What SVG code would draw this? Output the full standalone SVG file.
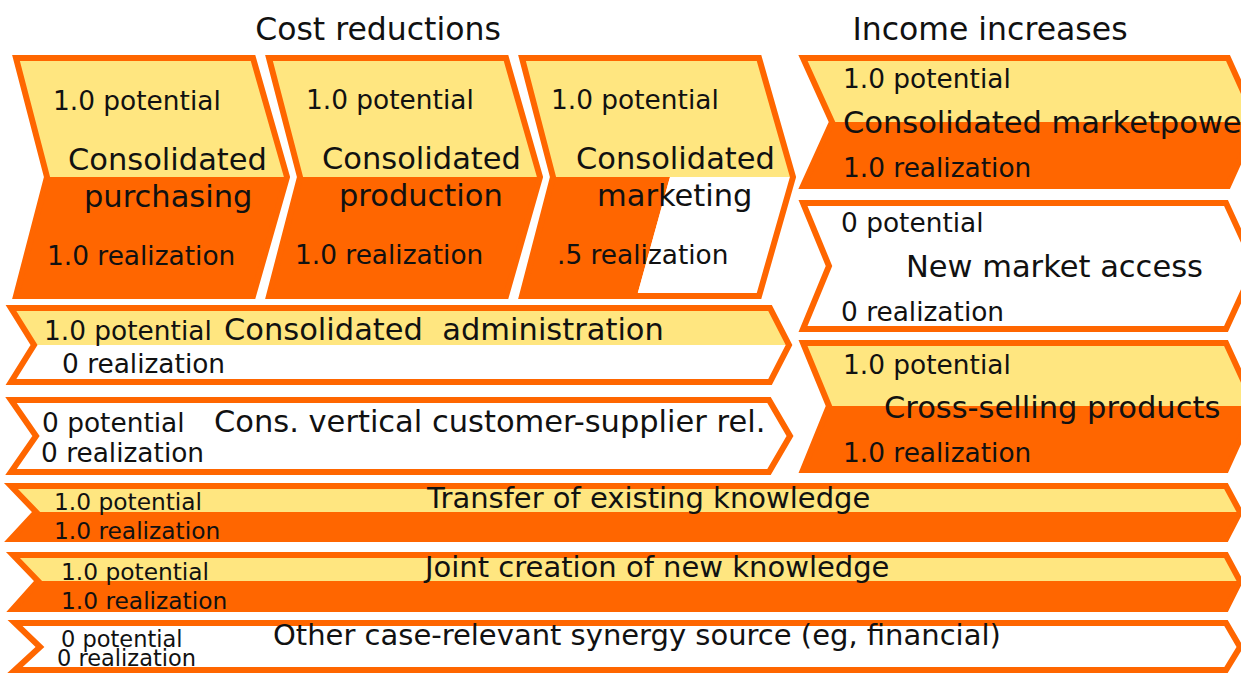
<svg xmlns="http://www.w3.org/2000/svg" width="1241" height="673" viewBox="0 0 1241 673">
<style>
text{font-family:"DejaVu Sans","Verdana",sans-serif;fill:#111;white-space:pre}
.h{font-size:31.5px}
.b{font-size:30.5px}
.s{font-size:26.4px}
.s2{font-size:23.3px}
.s3{font-size:22.5px}
.m{font-size:29px}
.y{fill:#FFE680}
.o{fill:#FF6600}
.w{fill:#FFFFFF}
.ol{fill:none;stroke:#FF6600;stroke-width:6;stroke-linejoin:miter}
</style>
<rect width="1241" height="673" fill="#FFFFFF"/>
<g id="headers">
<text class="h" x="378" y="40" text-anchor="middle">Cost reductions</text>
<text class="h" x="990" y="40" text-anchor="middle">Income increases</text>
</g>
<g id="purchasing">
<polygon class="y" points="16,58 253,58 287,177 47,177"/>
<polygon class="o" points="47,177 287,177 253,296 16,296"/>
<polygon class="ol" points="16,58 253,58 287,177 253,296 16,296 47,177"/>
<text class="s" x="53" y="110">1.0 potential</text>
<text class="b" x="68" y="170">Consolidated</text>
<text class="b" x="84" y="207">purchasing</text>
<text class="s" x="47" y="265">1.0 realization</text>
</g>
<g id="production">
<polygon class="y" points="269,58 506,58 540,177 300,177"/>
<polygon class="o" points="300,177 540,177 506,296 269,296"/>
<polygon class="ol" points="269,58 506,58 540,177 506,296 269,296 300,177"/>
<text class="s" x="306" y="109">1.0 potential</text>
<text class="b" x="322" y="169">Consolidated</text>
<text class="b" x="339" y="206">production</text>
<text class="s" x="295" y="264">1.0 realization</text>
</g>
<g id="marketing">
<polygon class="y" points="522,58 759,58 793,177 553,177"/>
<polygon class="o" points="553,177 670,177 637,296 522,296"/>
<polygon class="w" points="670,177 793,177 759,296 637,296"/>
<polygon class="ol" points="522,58 759,58 793,177 759,296 522,296 553,177"/>
<text class="s" x="551" y="109">1.0 potential</text>
<text class="b" x="576" y="169">Consolidated</text>
<text class="b" x="597" y="206">marketing</text>
<text class="s" x="557" y="264">.5 realization</text>
</g>
<g id="marketpower">
<polygon class="y" points="803,58 1228,58 1257,122 832,122"/>
<polygon class="o" points="832,122 1257,122 1228,186 803,186"/>
<polygon class="ol" points="803,58 1228,58 1257,122 1228,186 803,186 832,122"/>
<text class="s" x="843" y="88">1.0 potential</text>
<text class="b" x="843" y="133">Consolidated marketpower</text>
<text class="s" x="843" y="177">1.0 realization</text>
</g>
<g id="marketaccess">
<polygon class="w" points="803,203 1226,203 1255,266 1226,329 803,329 829,266"/>
<polygon class="ol" points="803,203 1226,203 1255,266 1226,329 803,329 829,266"/>
<text class="s" x="841" y="232">0 potential</text>
<text class="b" x="906" y="277">New market access</text>
<text class="s" x="841" y="321">0 realization</text>
</g>
<g id="crossselling">
<polygon class="y" points="803,343 1226,343 1255,406 829,406"/>
<polygon class="o" points="829,406 1255,406 1226,470 803,470"/>
<polygon class="ol" points="803,343 1226,343 1255,406 1226,470 803,470 829,406"/>
<text class="s" x="843" y="374">1.0 potential</text>
<text class="b" x="884" y="418">Cross-selling products</text>
<text class="s" x="843" y="462">1.0 realization</text>
</g>
<g id="administration">
<polygon class="y" points="11,308 770,308 789,345 34,345"/>
<polygon class="w" points="34,345 789,345 770,382 11,382"/>
<polygon class="ol" points="11,308 770,308 789,345 770,382 11,382 34,345"/>
<text class="s" x="44" y="340">1.0 potential</text>
<text class="b" x="224" y="340">Consolidated  administration</text>
<text class="s" x="62" y="373">0 realization</text>
</g>
<g id="vertical">
<polygon class="w" points="11,400 769,400 790,436 769,472 11,472 36,436"/>
<polygon class="ol" points="11,400 769,400 790,436 769,472 11,472 36,436"/>
<text class="s" x="42" y="432">0 potential</text>
<text class="b" x="214" y="432">Cons. vertical customer-supplier rel.</text>
<text class="s" x="41" y="462">0 realization</text>
</g>
<g id="transfer">
<polygon class="y" points="11,486 1226,486 1240,512 36,512"/>
<polygon class="o" points="36,512 1240,512 1226,539 11,539"/>
<polygon class="ol" points="11,486 1226,486 1240,512 1226,539 11,539 36,512"/>
<text class="s2" x="54" y="510">1.0 potential</text>
<text class="m" x="427" y="508">Transfer of existing knowledge</text>
<text class="s2" x="54" y="539">1.0 realization</text>
</g>
<g id="joint">
<polygon class="y" points="13,555 1226,555 1240,581 38,581"/>
<polygon class="o" points="38,581 1240,581 1226,609 13,609"/>
<polygon class="ol" points="13,555 1226,555 1240,581 1226,609 13,609 38,581"/>
<text class="s2" x="61" y="580">1.0 potential</text>
<text class="m" x="425" y="577">Joint creation of new knowledge</text>
<text class="s2" x="61" y="609">1.0 realization</text>
</g>
<g id="other">
<polygon class="w" points="15,623 1226,623 1240,647 1226,670 15,670 40,647"/>
<polygon class="ol" points="15,623 1226,623 1240,647 1226,670 15,670 40,647"/>
<text class="s3" x="61" y="647">0 potential</text>
<text class="m" x="273" y="645">Other case-relevant synergy source (eg, financial)</text>
<text class="s3" x="57" y="666">0 realization</text>
</g>
<g id="connectors"></g>
</svg>
